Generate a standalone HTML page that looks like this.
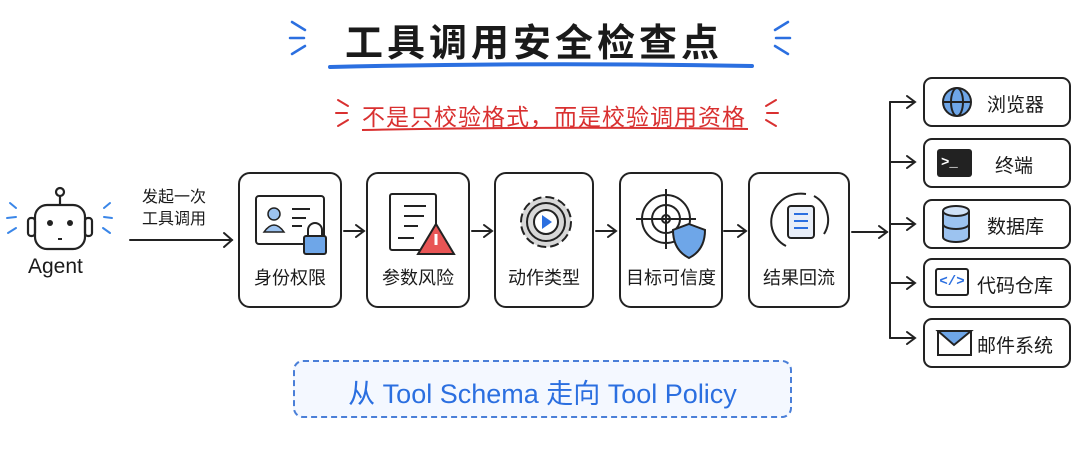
<!DOCTYPE html>
<html><head><meta charset="utf-8"><style>
body{margin:0;width:1080px;height:454px;background:#fff;position:relative;overflow:hidden;font-family:"Liberation Sans","Noto Sans CJK SC",sans-serif;color:#1a1a1a}
.t{position:absolute;white-space:nowrap}
.box{position:absolute;border:2px solid #222;border-radius:12px;background:#fff;box-sizing:border-box}
.lbl{position:absolute;left:0;right:0;bottom:16px;text-align:center;font-size:18px}
.r{position:absolute;left:923px;width:148px;height:50px;border:2px solid #222;border-radius:9px;box-sizing:border-box;background:#fff}
.r span{position:absolute;top:11px;font-size:19px}
</style></head><body>
<div class="t" style="left:345px;top:12px;font-size:38px;font-weight:bold;letter-spacing:4px">工具调用安全检查点</div>
<svg width="1080" height="454" style="position:absolute;left:0;top:0">
<path d="M330 67 Q540 62 752 66" stroke="#2b6fe0" stroke-width="4" fill="none" stroke-linecap="round"/>
<g stroke="#2b6fe0" stroke-width="2.5" stroke-linecap="round"><line x1="292" y1="22" x2="305" y2="30"/><line x1="290" y1="38" x2="304" y2="38"/><line x1="292" y1="54" x2="305" y2="46"/><line x1="788" y1="22" x2="775" y2="30"/><line x1="790" y1="38" x2="776" y2="38"/><line x1="788" y1="54" x2="775" y2="46"/></g>
<path d="M362 130 Q555 126 748 129" stroke="#d93030" stroke-width="2" fill="none"/>
<g stroke="#d93030" stroke-width="2" stroke-linecap="round"><line x1="338" y1="100" x2="348" y2="106"/><line x1="336" y1="113" x2="347" y2="113"/><line x1="338" y1="126" x2="348" y2="120"/><line x1="776" y1="100" x2="766" y2="106"/><line x1="778" y1="113" x2="767" y2="113"/><line x1="776" y1="126" x2="766" y2="120"/></g>
<g stroke="#222" stroke-width="2.2" fill="none">
<rect x="35" y="205" width="50" height="44" rx="12" fill="#fff"/>
<rect x="28" y="218" width="7" height="18" rx="3"/><rect x="85" y="218" width="7" height="18" rx="3"/>
<line x1="60" y1="205" x2="60" y2="196"/><circle cx="60" cy="192" r="4"/>
</g>
<circle cx="50" cy="223" r="3" fill="#222"/><circle cx="70" cy="223" r="3" fill="#222"/><line x1="58" y1="239" x2="62" y2="239" stroke="#222" stroke-width="2"/>
<g stroke="#3a86e8" stroke-width="2" stroke-linecap="round"><line x1="10" y1="203" x2="16" y2="208"/><line x1="7" y1="218" x2="16" y2="217"/><line x1="8" y1="233" x2="16" y2="228"/><line x1="110" y1="203" x2="104" y2="208"/><line x1="112" y1="218" x2="104" y2="217"/><line x1="110" y1="233" x2="103" y2="228"/></g>
<g stroke="#222" stroke-width="2" fill="none" stroke-linecap="round">
<line x1="130" y1="240" x2="232" y2="240"/><path d="M224 233 L232 240 L224 247"/>
<line x1="344" y1="231" x2="363" y2="231"/><path d="M356 225 L364 231 L356 237"/>
<line x1="472" y1="231" x2="491" y2="231"/><path d="M484 225 L492 231 L484 237"/>
<line x1="596" y1="231" x2="615" y2="231"/><path d="M608 225 L616 231 L608 237"/>
<line x1="724" y1="231" x2="745" y2="231"/><path d="M738 225 L746 231 L738 237"/>
<line x1="852" y1="232" x2="887" y2="232"/><path d="M879 226 L887 232 L879 238"/>
<line x1="890" y1="102" x2="890" y2="338"/>
<path d="M890 102 L915 102 M907 96 L915 102 L907 108"/>
<path d="M890 162 L915 162 M907 156 L915 162 L907 168"/>
<path d="M890 224 L915 224 M907 218 L915 224 L907 230"/>
<path d="M890 283 L915 283 M907 277 L915 283 L907 289"/>
<path d="M890 338 L915 338 M907 332 L915 338 L907 344"/>
</g>
</svg>
<div class="t" style="left:28px;top:255px;font-size:21px">Agent</div>
<div class="t" style="left:142px;top:187px;font-size:16px;line-height:22px">发起一次<br>工具调用</div>
<div class="box" style="left:238px;top:172px;width:104px;height:136px"><svg width="100" height="90" style="position:absolute;left:0;top:0">
<rect x="16" y="22" width="68" height="48" rx="3" fill="none" stroke="#222" stroke-width="2"/><circle cx="34" cy="40" r="6" fill="#9cc3f0" stroke="#222" stroke-width="1.5"/><path d="M24 58 Q34 44 44 58 Z" fill="#9cc3f0" stroke="#222" stroke-width="1.5"/><line x1="52" y1="35" x2="70" y2="35" stroke="#222" stroke-width="2"/><line x1="52" y1="44" x2="66" y2="44" stroke="#222" stroke-width="2"/><line x1="52" y1="52" x2="62" y2="52" stroke="#222" stroke-width="2"/>
<path d="M68 62 v-6 a7 7 0 0 1 14 0 v6" fill="none" stroke="#222" stroke-width="2"/><rect x="64" y="62" width="22" height="18" rx="2" fill="#6ea6e8" stroke="#222" stroke-width="2"/></svg><div class="lbl">身份权限</div></div>
<div class="box" style="left:366px;top:172px;width:104px;height:136px"><svg width="100" height="90" style="position:absolute;left:0;top:0">
<rect x="22" y="20" width="46" height="56" rx="2" fill="none" stroke="#222" stroke-width="2"/><g stroke="#222" stroke-width="2"><line x1="36" y1="32" x2="58" y2="32"/><line x1="36" y1="42" x2="56" y2="42"/><line x1="36" y1="52" x2="50" y2="52"/><line x1="30" y1="64" x2="46" y2="64"/></g>
<path d="M68 50 L86 80 L50 80 Z" fill="#e85555" stroke="#222" stroke-width="2"/><line x1="68" y1="60" x2="68" y2="71" stroke="#fff" stroke-width="3"/></svg><div class="lbl">参数风险</div></div>
<div class="box" style="left:494px;top:172px;width:100px;height:136px"><svg width="100" height="90" style="position:absolute;left:0;top:0">
<circle cx="50" cy="48" r="25" fill="#d8d8d8" stroke="#222" stroke-width="2" stroke-dasharray="9 4"/><circle cx="50" cy="48" r="19" fill="#d8d8d8" stroke="#222" stroke-width="2"/><circle cx="50" cy="48" r="12" fill="#fff" stroke="#222" stroke-width="2"/><path d="M46 41 L56 48 L46 55 Z" fill="#2b6fe0"/></svg><div class="lbl">动作类型</div></div>
<div class="box" style="left:619px;top:172px;width:104px;height:136px"><svg width="100" height="90" style="position:absolute;left:0;top:0">
<g fill="none" stroke="#222" stroke-width="2"><circle cx="45" cy="45" r="24"/><circle cx="45" cy="45" r="14"/><circle cx="45" cy="45" r="4"/><line x1="45" y1="15" x2="45" y2="75"/><line x1="15" y1="45" x2="75" y2="45"/></g>
<path d="M68 50 L84 56 Q84 76 68 84 Q52 76 52 56 Z" fill="#6ea6e8" stroke="#222" stroke-width="2"/></svg><div class="lbl">目标可信度</div></div>
<div class="box" style="left:748px;top:172px;width:102px;height:136px"><svg width="100" height="90" style="position:absolute;left:0;top:0">
<path d="M64 22 A27 27 0 0 1 74 60 M36 72 A27 27 0 0 1 30 28 Q40 18 56 20" fill="none" stroke="#222" stroke-width="2"/>
<rect x="38" y="32" width="26" height="32" rx="3" fill="#e8eef8" stroke="#222" stroke-width="2"/><g stroke="#2b6fe0" stroke-width="2"><line x1="44" y1="40" x2="58" y2="40"/><line x1="44" y1="47" x2="58" y2="47"/><line x1="44" y1="54" x2="58" y2="54"/></g></svg><div class="lbl">结果回流</div></div>
<div class="r" style="top:77px"><svg width="40" height="46" style="position:absolute;left:10px;top:0"><circle cx="22" cy="23" r="14" fill="#6ea6e8" stroke="#222" stroke-width="2"/><ellipse cx="22" cy="23" rx="6" ry="14" fill="none" stroke="#222" stroke-width="2"/><line x1="8" y1="23" x2="36" y2="23" stroke="#222" stroke-width="2"/></svg><span style="left:62px">浏览器</span></div>
<div class="r" style="top:138px"><div style="position:absolute;left:12px;top:9px;width:35px;height:28px;background:#222;border-radius:3px;color:#fff;font:bold 14px 'Liberation Mono',monospace;line-height:28px;padding-left:4px;box-sizing:border-box">&gt;_</div><span style="left:70px">终端</span></div>
<div class="r" style="top:199px"><svg width="40" height="46" style="position:absolute;left:12px;top:0"><path d="M6 10 v26 a13 5 0 0 0 26 0 v-26" fill="#9cc3f0" stroke="#222" stroke-width="2"/><ellipse cx="19" cy="10" rx="13" ry="5" fill="#cfe1f7" stroke="#222" stroke-width="2"/><path d="M6 23 a13 5 0 0 0 26 0" fill="none" stroke="#222" stroke-width="2"/></svg><span style="left:62px">数据库</span></div>
<div class="r" style="top:258px"><div style="position:absolute;left:10px;top:8px;width:34px;height:28px;border:2px solid #222;border-radius:3px;box-sizing:border-box;color:#2b6fe0;font:bold 14px 'Liberation Mono',monospace;text-align:center;line-height:24px">&lt;/&gt;</div><span style="left:52px">代码仓库</span></div>
<div class="r" style="top:318px"><svg width="40" height="46" style="position:absolute;left:10px;top:0"><rect x="3" y="11" width="33" height="24" fill="#fff" stroke="#222" stroke-width="2"/><path d="M3 11 L19 25 L36 11 Z" fill="#6ea6e8" stroke="#222" stroke-width="2"/></svg><span style="left:52px">邮件系统</span></div>
<div class="t" style="left:362px;top:98px;font-size:23px;letter-spacing:1px;color:#d93030">不是只校验格式，而是校验调用资格</div>
<div style="position:absolute;left:293px;top:360px;width:499px;height:58px;border:2px dashed #4a7fd8;border-radius:10px;background:#f4f8ff;box-sizing:border-box"></div>
<div class="t" style="left:293px;width:499px;top:372px;text-align:center;font-size:27px;color:#2b6fe0">从 Tool Schema 走向 Tool Policy</div>
</body></html>
